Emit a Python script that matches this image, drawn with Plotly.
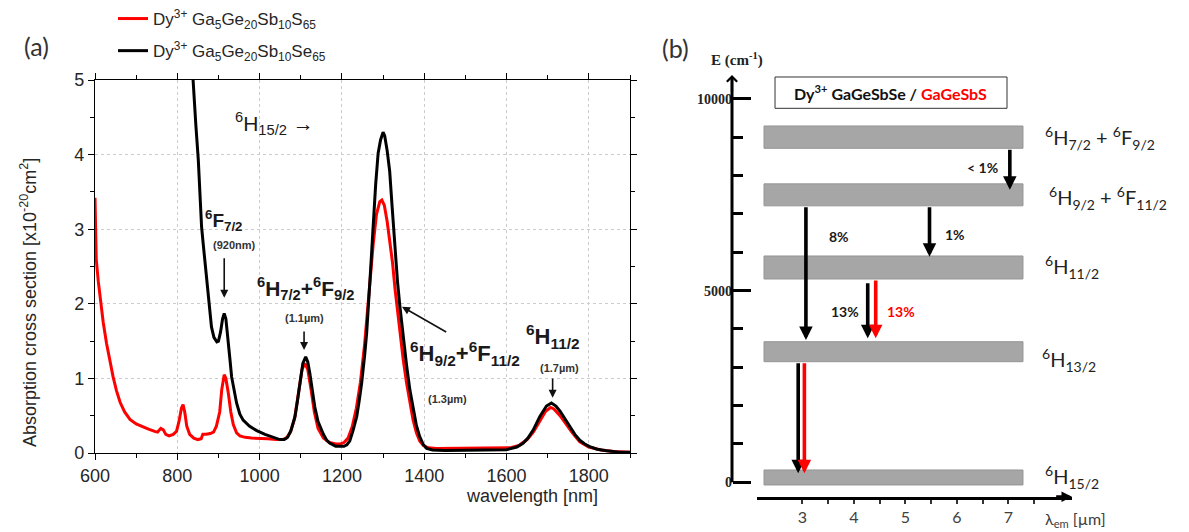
import plotly.graph_objects as go

W, H = 1189, 532

# ---------------- Panel (a) data: absorption cross section (x1e-20 cm^2) ----------------
WL_S = [600, 603, 608, 612, 620, 628, 636, 644, 652, 661, 672, 685, 700, 715, 730, 745, 752,
        760, 766, 772, 780, 790, 798, 804, 810, 814, 818, 823, 830, 840, 850, 858, 862, 870,
        880, 888, 895, 903, 908, 914, 918, 924, 930, 936, 944, 952, 965, 980, 1000, 1020, 1040,
        1055, 1065, 1075, 1085, 1095, 1103, 1110, 1117, 1125, 1133, 1142, 1155, 1170, 1185,
        1195, 1205, 1215, 1225, 1235, 1245, 1255, 1265, 1276, 1284, 1292, 1297, 1303, 1310,
        1316, 1323, 1329, 1335, 1341, 1349, 1357, 1365, 1373, 1381, 1389, 1398, 1410, 1430,
        1460, 1500, 1540, 1580, 1610, 1630, 1650, 1665, 1680, 1695, 1707, 1715, 1730, 1745,
        1760, 1778, 1800, 1830, 1860, 1900]
ABS_S = [3.42, 2.6, 2.3, 2.1, 1.75, 1.47, 1.22, 1.02, 0.84, 0.68, 0.55, 0.45, 0.39, 0.35, 0.32,
         0.29, 0.28, 0.33, 0.31, 0.25, 0.23, 0.25, 0.29, 0.42, 0.6, 0.65, 0.55, 0.36, 0.25, 0.20,
         0.18, 0.19, 0.25, 0.25, 0.26, 0.28, 0.36, 0.55, 0.85, 1.05, 1.0, 0.8, 0.55, 0.38, 0.27,
         0.23, 0.21, 0.20, 0.20, 0.19, 0.18, 0.18, 0.20, 0.28, 0.46, 0.85, 1.12, 1.20, 1.12,
         0.85, 0.55, 0.33, 0.20, 0.14, 0.12, 0.12, 0.14, 0.20, 0.35, 0.60, 0.95, 1.45, 2.1, 2.8,
         3.2, 3.37, 3.39, 3.32, 3.1, 2.86, 2.55, 2.2, 1.9, 1.6, 1.25, 0.94, 0.66, 0.44, 0.27,
         0.16, 0.10, 0.07, 0.06, 0.06, 0.06, 0.06, 0.06, 0.07, 0.10, 0.18, 0.28, 0.43, 0.56,
         0.61, 0.59, 0.50, 0.38, 0.27, 0.15, 0.08, 0.04, 0.02, 0.01]

WL_SE = [835, 838, 845, 851, 855, 859, 863, 867, 871, 875, 879, 883, 889, 896, 900, 905, 910,
         914, 918, 923, 928, 932, 938, 944, 952, 960, 975, 993, 1013, 1033, 1049, 1060, 1068,
         1076, 1086, 1092, 1098, 1105, 1112, 1117, 1122, 1128, 1134, 1142, 1148, 1155, 1163,
         1171, 1185, 1195, 1205, 1212, 1219, 1227, 1236, 1242, 1248, 1255, 1260, 1268, 1276,
         1282, 1288, 1294, 1300, 1304, 1310, 1316, 1322, 1329, 1335, 1341, 1349, 1357, 1365,
         1373, 1381, 1389, 1398, 1406, 1420, 1450, 1500, 1550, 1600, 1625, 1640, 1652, 1665,
         1681, 1697, 1709, 1720, 1730, 1742, 1754, 1766, 1778, 1790, 1802, 1820, 1843, 1870, 1900]
ABS_SE = [5.3, 5.0, 4.4, 3.93, 3.5, 3.03, 2.8, 2.59, 2.36, 2.14, 1.9, 1.69, 1.55, 1.49, 1.5,
          1.62, 1.8, 1.87, 1.8, 1.56, 1.25, 1.02, 0.82, 0.67, 0.52, 0.44, 0.36, 0.30, 0.25, 0.21,
          0.18, 0.18, 0.21, 0.30, 0.49, 0.70, 0.94, 1.2, 1.29, 1.22, 1.07, 0.85, 0.62, 0.42, 0.33,
          0.25, 0.17, 0.13, 0.09, 0.085, 0.09, 0.11, 0.16, 0.30, 0.49, 0.70, 0.94, 1.3, 1.6, 2.3,
          3.1, 3.6, 4.02, 4.2, 4.3, 4.25, 4.05, 3.78, 3.3, 2.72, 2.3, 1.96, 1.55, 1.18, 0.85,
          0.58, 0.37, 0.22, 0.11, 0.06, 0.04, 0.035, 0.035, 0.035, 0.045, 0.08, 0.13, 0.20, 0.31,
          0.49, 0.63, 0.67, 0.63, 0.56, 0.46, 0.35, 0.25, 0.17, 0.12, 0.085, 0.05, 0.03, 0.015, 0.01]

NAME_S = "Dy<sup>3+</sup> Ga<sub>5</sub>Ge<sub>20</sub>Sb<sub>10</sub>S<sub>65</sub>"
NAME_SE = "Dy<sup>3+</sup> Ga<sub>5</sub>Ge<sub>20</sub>Sb<sub>10</sub>Se<sub>65</sub>"

X_TICKS_A = [600, 800, 1000, 1200, 1400, 1600, 1800]
Y_TICKS_A = [0, 1, 2, 3, 4, 5]

# Peak labels of panel (a)
PEAK_TEXT = ["<sup>6</sup>H<sub>15/2</sub> \u2192",
             "<b><sup>6</sup>F<sub>7/2</sub></b>",
             "<b><sup>6</sup>H<sub>7/2</sub>+<sup>6</sup>F<sub>9/2</sub></b>",
             "<b><sup>6</sup>H<sub>9/2</sub>+<sup>6</sup>F<sub>11/2</sub></b>",
             "<b><sup>6</sup>H<sub>11/2</sub></b>"]
PEAK_TEXT_X = [1037, 914, 1112, 1499, 1712]
PEAK_TEXT_Y = [4.42, 3.12, 2.2, 1.33, 1.56]
PEAK_TEXT_SIZE = [21, 19, 21, 22, 22]

PEAK_NOTE = ["(920nm)", "(1.1\u00b5m)", "(1.3\u00b5m)", "(1.7\u00b5m)"]
PEAK_NOTE_X = [938, 1108, 1457, 1729]
PEAK_NOTE_Y = [2.79, 1.81, 0.72, 1.14]

# arrows in panel (a): tip (x, y) and tail (x, y)
PA_TIP_X = [914, 1108, 1346, 1712]
PA_TIP_Y = [2.08, 1.38, 1.96, 0.74]
PA_TAIL_X = [914, 1108, 1457, 1712]
PA_TAIL_Y = [2.63, 1.65, 1.61, 1.02]

# ---------------- Panel (b) data: energy level diagram ----------------
LEVEL_LABELS = ["<sup>6</sup>H<sub>15/2</sub>", "<sup>6</sup>H<sub>13/2</sub>",
                "<sup>6</sup>H<sub>11/2</sub>",
                "<sup>6</sup>H<sub>9/2</sub> + <sup>6</sup>F<sub>11/2</sub>",
                "<sup>6</sup>H<sub>7/2</sub> + <sup>6</sup>F<sub>9/2</sub>"]
LEVEL_LOW = [-70, 3146, 5304, 7213, 8714]       # cm-1
LEVEL_HIGH = [321, 3668, 5904, 7786, 9296]      # cm-1
LEVEL_LABEL_X = [7.675, 7.62, 7.675, 7.75, 7.675]
LEVEL_LABEL_Y = [138, 3191, 5616, 7417, 8982]
BAR_X0, BAR_X1 = 2.256, 7.285                   # um

TRANS_X = [7.03, 5.47, 3.07, 4.27, 4.425, 2.92, 3.04]
TRANS_FROM = [8714, 7213, 7213, 5234, 5304, 3146, 3146]
TRANS_TO = [7631, 5886, 3715, 3757, 3757, 235, 235]
TRANS_COLOR = ["#000000", "#000000", "#000000", "#000000", "#ff0000", "#000000", "#ff0000"]

PCT_TEXT = ["< 1%", "1%", "8%", "13%", "13%"]
PCT_X = [6.49, 5.965, 3.71, 3.826, 4.915]
PCT_Y = [8200, 6452, 6400, 4443, 4443]
PCT_COLOR = ["#1a1a1a", "#1a1a1a", "#1a1a1a", "#1a1a1a", "#ff0000"]

E_TICKS = [0, 5000, 10000]
E_TICKTEXT = ["0", "5000", "10000"]
L_TICKS = [3, 3.5, 4, 4.5, 5, 5.5, 6, 6.5, 7, 7.5]
L_TICKTEXT = ["3", "", "4", "", "5", "", "6", "", "7", ""]


def px_x(p):
    return p / W


def px_y(p):
    return 1 - p / H


fig = go.Figure()
fig.add_trace(go.Scatter(x=WL_S, y=ABS_S, mode="lines", name=NAME_S, legendgroup="s",
                         line=dict(color="#ff0000", width=3), xaxis="x", yaxis="y"))
fig.add_trace(go.Scatter(x=WL_SE, y=ABS_SE, mode="lines", name=NAME_SE, legendgroup="se",
                         line=dict(color="#000000", width=3), xaxis="x", yaxis="y"))

# level bars as filled rectangles
bx, by = [], []
for lo, hi in zip(LEVEL_LOW, LEVEL_HIGH):
    bx += [BAR_X0, BAR_X1, BAR_X1, BAR_X0, BAR_X0, None]
    by += [lo, lo, hi, hi, lo, None]
fig.add_trace(go.Scatter(x=bx, y=by, mode="lines", fill="toself", fillcolor="#a6a6a6",
                         line=dict(color="#959595", width=1), showlegend=False,
                         hoverinfo="skip", xaxis="x2", yaxis="y2"))

axis_font = dict(family="Liberation Sans, Arial", size=18, color="#262626")

fig.update_layout(
    width=W, height=H, margin=dict(l=0, r=0, t=0, b=0, autoexpand=False),
    paper_bgcolor="white", plot_bgcolor="white",
    showlegend=True,
    legend=dict(x=px_x(113), y=px_y(1), xanchor="left", yanchor="top",
                font=dict(family="Liberation Sans, Arial", size=17, color="#262626"),
                bgcolor="rgba(0,0,0,0)", tracegroupgap=7, traceorder="grouped"),
    xaxis=dict(domain=[px_x(95), px_x(630)], range=[600, 1900], anchor="y",
               tickmode="array", tickvals=X_TICKS_A, tickfont=axis_font,
               showline=True, linecolor="#000", linewidth=1.3, mirror="allticks",
               ticks="outside", ticklen=6, tickwidth=1.2, tickcolor="#000",
               showgrid=True, gridcolor="#cccccc", griddash="dot", gridwidth=1,
               zeroline=False,
               minor=dict(ticks="outside", dtick=100, tick0=600, ticklen=3.5, tickwidth=1.2,
                          tickcolor="#000", showgrid=False)),
    yaxis=dict(domain=[px_y(453), px_y(80)], range=[0, 5], anchor="x",
               tickmode="array", tickvals=Y_TICKS_A, tickfont=axis_font,
               showline=True, linecolor="#000", linewidth=1.3, mirror="allticks",
               ticks="outside", ticklen=6, tickwidth=1.2, tickcolor="#000",
               showgrid=True, gridcolor="#cccccc", griddash="dot", gridwidth=1,
               zeroline=False,
               minor=dict(ticks="outside", dtick=0.5, tick0=0, ticklen=3.5, tickwidth=1.2,
                          tickcolor="#000", showgrid=False)),
    xaxis2=dict(domain=[px_x(757), px_x(1072)], range=[2.12, 8.237], anchor="y2",
                tickmode="array", tickvals=L_TICKS, ticktext=L_TICKTEXT,
                tickfont=dict(family="Lato, Open Sans", size=16, color="#404040"),
                showline=True, linecolor="#000", linewidth=3,
                ticks="outside", ticklen=4, tickwidth=1.5, tickcolor="#333",
                showgrid=False, zeroline=False),
    yaxis2=dict(domain=[px_y(496.7), px_y(75)], range=[-376, 10626], anchor="free",
                position=px_x(732), tickmode="array", tickvals=E_TICKS, ticktext=E_TICKTEXT,
                tickfont=dict(family="Liberation Serif, Times New Roman", size=14,
                              color="#222", weight="bold"),
                showline=False, ticks="inside", ticklen=18, tickwidth=3, tickcolor="#000",
                showgrid=False, zeroline=False,
                minor=dict(ticks="inside", dtick=1000, tick0=0, ticklen=10, tickwidth=3,
                           tickcolor="#000", showgrid=False)),
)

ann = []


def add_text(text, x, y, xref, yref, font, **kw):
    d = dict(text=text, x=x, y=y, xref=xref, yref=yref, showarrow=False, font=font,
             xanchor="center", yanchor="middle")
    d.update(kw)
    ann.append(d)


# panel labels
add_text("(a)", px_x(36), px_y(46), "paper", "paper",
         dict(family="Lato, Open Sans", size=25, color="#333"))
add_text("(b)", px_x(675), px_y(48), "paper", "paper",
         dict(family="Lato, Open Sans", size=25, color="#333"))
# axis titles panel (a)
add_text("wavelength [nm]", px_x(532), px_y(496), "paper", "paper",
         dict(family="Liberation Sans, Arial", size=18, color="#262626"))
add_text("Absorption cross section [x10<sup>-20</sup>cm<sup>2</sup>]", px_x(28), px_y(303),
         "paper", "paper", dict(family="Liberation Sans, Arial", size=18, color="#262626"),
         textangle=-90)
# peak labels
for t, x, y, s in zip(PEAK_TEXT, PEAK_TEXT_X, PEAK_TEXT_Y, PEAK_TEXT_SIZE):
    add_text(t, x, y, "x", "y", dict(family="Liberation Sans, Arial", size=s, color="#1a1a1a"))
for t, x, y in zip(PEAK_NOTE, PEAK_NOTE_X, PEAK_NOTE_Y):
    add_text("<b>" + t + "</b>", x, y, "x", "y",
             dict(family="Liberation Sans, Arial", size=11, color="#333"))
for tx, ty, sx, sy in zip(PA_TIP_X, PA_TIP_Y, PA_TAIL_X, PA_TAIL_Y):
    ann.append(dict(text="", x=tx, y=ty, ax=sx, ay=sy, xref="x", yref="y", axref="x", ayref="y",
                    showarrow=True, arrowhead=2, arrowwidth=1.6, arrowsize=1.0, arrowcolor="#111"))

# panel (b) texts
add_text("E (cm<sup>-1</sup>)", px_x(737), px_y(60), "paper", "paper",
         dict(family="Liberation Serif, Times New Roman", size=15, color="#222", weight="bold"))
add_text("\u03bb<sub>em</sub> [\u00b5m]", px_x(1075), px_y(519), "paper", "paper",
         dict(family="Lato, Open Sans", size=16, color="#404040"))
for t, x, y in zip(LEVEL_LABELS, LEVEL_LABEL_X, LEVEL_LABEL_Y):
    add_text(t, x, y, "x2", "y2", dict(family="Lato, Open Sans", size=20, color="#222"),
             xanchor="left")
for t, x, y, c in zip(PCT_TEXT, PCT_X, PCT_Y, PCT_COLOR):
    add_text("<b>" + t + "</b>", x, y, "x2", "y2", dict(family="Lato, Open Sans", size=14, color=c))
for x, e0, e1, c in zip(TRANS_X, TRANS_FROM, TRANS_TO, TRANS_COLOR):
    ann.append(dict(text="", x=x, y=e1, ax=x, ay=e0, xref="x2", yref="y2", axref="x2", ayref="y2",
                    showarrow=True, arrowhead=2, arrowwidth=3.6, arrowsize=0.75, arrowcolor=c))
# box title
add_text("<b>Dy<sup>3+</sup> GaGeSbSe / <span style='color:#ff0000'>GaGeSbS</span></b>",
         4.72, 10170, "x2", "y2", dict(family="Lato, Open Sans", size=16, color="#111"))
# axis arrow heads
ann.append(dict(text="", x=8.237, y=-376, ax=7.9, ay=-376, xref="x2", yref="y2", axref="x2",
                ayref="y2", showarrow=True, arrowhead=2, arrowwidth=3, arrowsize=0.7,
                arrowcolor="#000"))
ann.append(dict(text="", x=px_x(732), y=10626, ax=0, ay=18, xref="paper", yref="y2",
                showarrow=True, arrowhead=4, arrowwidth=2.2, arrowsize=0.9, arrowcolor="#000"))

fig.update_layout(annotations=ann)

shapes = [
    dict(type="line", xref="paper", yref="y2", x0=px_x(732), x1=px_x(732), y0=0, y1=10560,
         line=dict(color="#000", width=3)),
    dict(type="rect", xref="x2", yref="y2", x0=2.47, x1=6.975, y0=9757, y1=10574,
         line=dict(color="#333", width=1), fillcolor="rgba(0,0,0,0)"),
]
fig.update_layout(shapes=shapes)

fig.write_html("out.html", config={"displayModeBar": False},
               post_script="document.body.style.margin='0';document.body.style.padding='0';")
